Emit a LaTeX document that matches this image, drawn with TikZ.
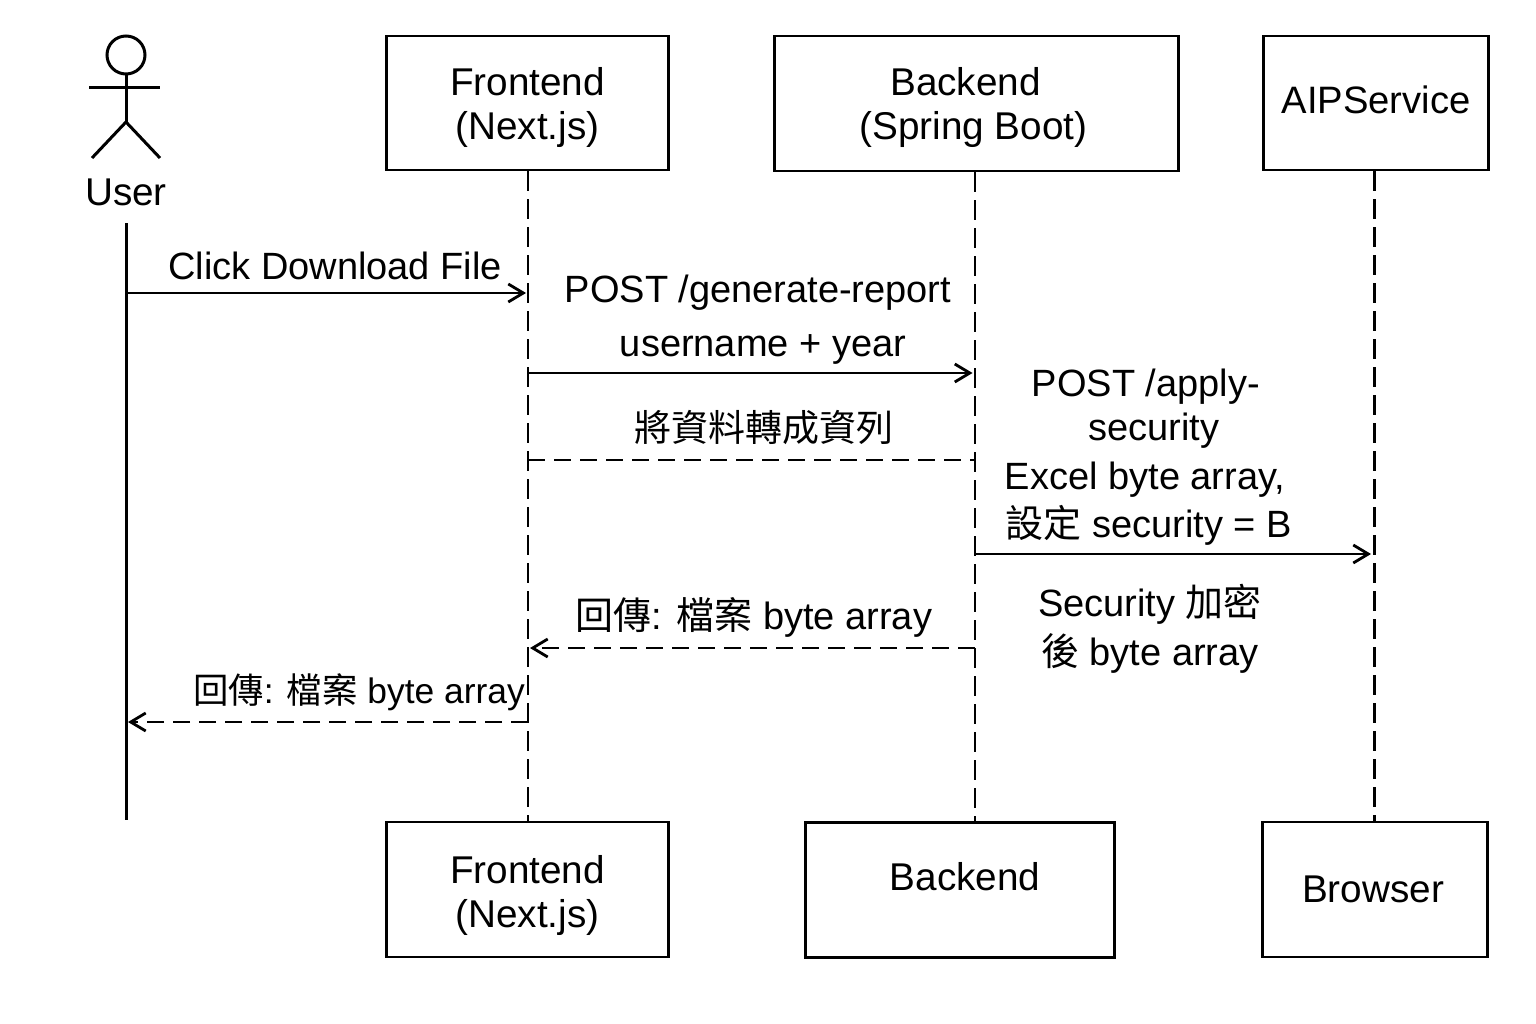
\documentclass[tikz,border=0pt]{standalone}
\usepackage{fontspec}
\setmainfont{Liberation Sans}
\newfontfamily\cjk{Noto Sans CJK TC}
\usetikzlibrary{arrows.meta,positioning}

\tikzset{
    actor box/.style={draw, line width=2.8pt, inner sep=0pt, align=center, font=\fontsize{38.7}{44}\selectfont},
    actor line/.style={line width=3pt},
    life line/.style={line width=2.6pt, dash pattern=on 20pt off 8pt},
    msg/.style={line width=2.8pt, shorten >=2pt, -{Straight Barb[length=15pt,width=18pt,line width=2.8pt]}},
    msg dashed/.style={msg, dash pattern=on 17pt off 9pt},
    msg text/.style={inner sep=0pt, align=center}
}

\begin{document}
\begin{tikzpicture}[x=1pt, y=-1pt, font=\fontsize{38}{44}\selectfont]
    \useasboundingbox (0,0) rectangle (1536,1024);

    % top row
    \node[actor box, minimum width=282pt, minimum height=134pt, text height=82pt] (frontend top) at (527.5,103) {Frontend\\(Next.js)};
    \node[actor box, minimum width=404pt, minimum height=135pt, text height=80pt] (backend top) at (976.5,103.5) {\hspace*{-22pt}Backend\\\hspace*{-6pt}(Spring Boot)};
    \node[actor box, minimum width=225pt, minimum height=134pt, text depth=6pt] (aip top) at (1376,103) {\fontsize{38.2}{44}\selectfont AIPService};

    % bottom row
    \node[actor box, minimum width=282pt, minimum height=135pt, text height=84pt] (frontend bottom) at (527.5,889.5) {Frontend\\(Next.js)};
    \node[actor box, minimum width=309pt, minimum height=135pt, text depth=28pt] (backend bottom) at (960,890) {\hspace*{10pt}Backend};
    \node[actor box, minimum width=225pt, minimum height=135pt] (browser bottom) at (1375,889.5) {\hspace*{-4pt}Browser};

    % stick figure
    \node[draw, circle, line width=3pt, minimum size=38pt, inner sep=0pt] (head) at (126,55) {};
    \coordinate (hip) at (126,122);
    \coordinate (arm left) at (89,88);
    \coordinate (arm right) at (160,88);
    \coordinate (foot left) at (92,158);
    \coordinate (foot right) at (160,158);
    \draw[actor line] (head.south) -- (hip);
    \draw[actor line] (arm left) -- (arm right);
    \draw[actor line] (foot left) -- (hip) -- (foot right);
    \node[minimum height=62pt, inner sep=0pt, font=\fontsize{38.7}{44}\selectfont] (user) at (126,192) {User};

    % life lines
    \coordinate (user end) at (126,820);
    \draw[actor line] (user.south) -- (user end);
    \draw[life line] ([xshift=0.5pt]frontend top.south) -- ([xshift=0.5pt]frontend bottom.north);
    \draw[life line] ([xshift=-1.5pt]backend top.south) -- ([xshift=-1.5pt]backend top.south |- backend bottom.north);
    \draw[life line] ([xshift=-1.5pt]aip top.south) -- ([xshift=-0.5pt]browser bottom.north);

    % message ends
    \foreach \name/\y in {click/293, post/373, data/460, apply/554, back/648, file/722}{
        \coordinate (user \name) at (126,\y);
        \coordinate (frontend \name) at (528,\y);
        \coordinate (backend \name) at (974.5,\y);
        \coordinate (aip \name) at (1373,\y);
    }

    \draw[msg] (user click) -- (frontend click);
    \draw[msg] (frontend post) -- (backend post);
    \draw[line width=2.8pt, dash pattern=on 17pt off 9pt] (frontend data) -- (backend data);
    \draw[msg] (backend apply) -- (aip apply);
    \draw[msg dashed] (backend back) -- (frontend back);
    \draw[msg dashed] (frontend file) -- (user file);

    % message labels
    \node[msg text] (click label) at (335,266) {Click Download File};
    \node[msg text] (post label) at (763,320) {\hspace*{-10pt}POST /generate-report\\[10pt]username + year};
    \node[msg text] (data label) at (763.5,428) {\cjk\fontsize{37}{44}\selectfont 將資料轉成資列};
    \node[msg text] (apply label) at (1150,409) {\hspace*{-8pt}POST /apply-\\\hspace*{8pt}security};
    \node[msg text] (excel label) at (1149,504) {\hspace*{-8pt}Excel byte array,\\[4pt]{\cjk 設定} security = B};
    \node[msg text] (enc label) at (1150,628.5) {Security {\cjk 加密}\\[5pt]{\cjk 後} byte array};
    \node[msg text] (back label) at (754,617) {{\cjk 回傳}: {\cjk 檔案} byte array};
    \node[msg text, font=\fontsize{35.4}{44}\selectfont] (file label) at (359,692) {{\cjk 回傳}: {\cjk 檔案} byte array};
\end{tikzpicture}
\end{document}
